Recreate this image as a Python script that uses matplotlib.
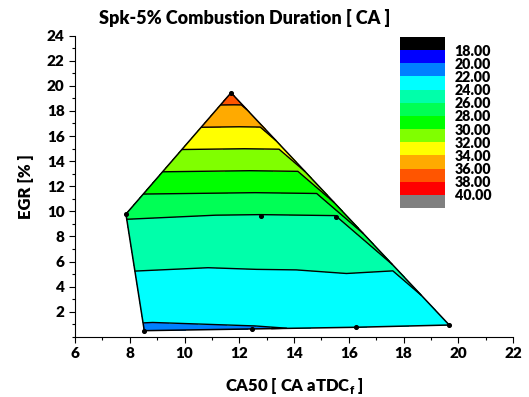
import numpy as np
import matplotlib
matplotlib.use('Agg')
import matplotlib.pyplot as plt
import matplotlib.tri as mtri
from matplotlib.ticker import MultipleLocator

plt.rcParams['font.family'] = ['Lato', 'DejaVu Sans']
plt.rcParams['font.weight'] = 'heavy'
plt.rcParams['mathtext.fontset'] = 'custom'
plt.rcParams['mathtext.rm'] = 'Lato'
plt.rcParams['mathtext.bf'] = 'Lato:heavy'

# measured operating points: CA50, EGR, Spk-5% duration
ca50 = [11.70, 7.86, 12.78, 15.55, 19.67, 8.53, 12.46, 16.26]
egr = [19.45, 9.78, 9.65, 9.57, 0.94, 0.49, 0.65, 0.76]
dur = [37.1, 26.2, 25.9, 25.9, 22.1, 21.7, 21.9, 22.2]

# connectivity of the measured points
tris = [[0, 1, 2], [0, 2, 3], [0, 3, 4], [1, 5, 2], [5, 6, 2],
        [6, 3, 2], [6, 7, 3], [7, 4, 3], [5, 7, 6]]

levels = [16, 18, 20, 22, 24, 26, 28, 30, 32, 34, 36, 38, 40, 42]
line_levels = levels[1:-1]
colors = ['#000000', '#0000ff', '#0080ff', '#00ffff', '#00ffaa', '#00ff55',
          '#00ff00', '#80ff00', '#ffff00', '#ffaa00', '#ff5500', '#ff0000',
          '#808080']

fig = plt.figure(figsize=(5.29, 3.97), dpi=100)
ax = fig.add_axes([0.1418, 0.1516, 0.8280, 0.7586])

tri = mtri.Triangulation(ca50, egr, tris)
cf = ax.tricontourf(tri, dur, levels=levels, colors=colors)
ax.tricontour(tri, dur, levels=line_levels, colors='k', linewidths=1.0)

# outline of the data region
for i, row in enumerate(tri.triangles):
    for j in range(3):
        if tri.neighbors[i, j] == -1:
            a, b = row[j], row[(j + 1) % 3]
            ax.plot([ca50[a], ca50[b]], [egr[a], egr[b]], color='k', lw=1.1)

ax.scatter(ca50, egr, s=7, color='k', zorder=5)

ax.set_xlim(6, 22)
ax.set_ylim(0, 24)
ax.xaxis.set_major_locator(MultipleLocator(2))
ax.xaxis.set_minor_locator(MultipleLocator(1))
ax.yaxis.set_major_locator(MultipleLocator(2))
ax.yaxis.set_minor_locator(MultipleLocator(1))
ax.set_yticks(range(2, 25, 2))
for s in ['top', 'right']:
    ax.spines[s].set_visible(False)
ax.tick_params(which='major', length=4, width=0.8, labelsize=11)
ax.tick_params(which='minor', length=2, width=0.8)

ax.set_xlabel(r'CA50 [ CA aTDC$_\mathbf{f}$ ]', fontsize=12, fontweight='heavy', labelpad=11)
ax.set_ylabel('EGR [% ]', fontsize=12, fontweight='heavy', labelpad=9)
fig.text(0.463, 0.955, 'Spk-5% Combustion Duration [ CA ]', fontsize=13,
         fontweight='heavy', ha='center', va='center')

cax = fig.add_axes([0.756, 0.476, 0.085, 0.431])
cb = fig.colorbar(cf, cax=cax, ticks=line_levels, format='%.2f')
cb.outline.set_visible(False)
cax.invert_yaxis()
cax.tick_params(length=0, pad=7, labelsize=10.3)
for t in cax.get_yticklabels():
    t.set_fontweight('heavy')

fig.savefig('out.png', dpi=100)
